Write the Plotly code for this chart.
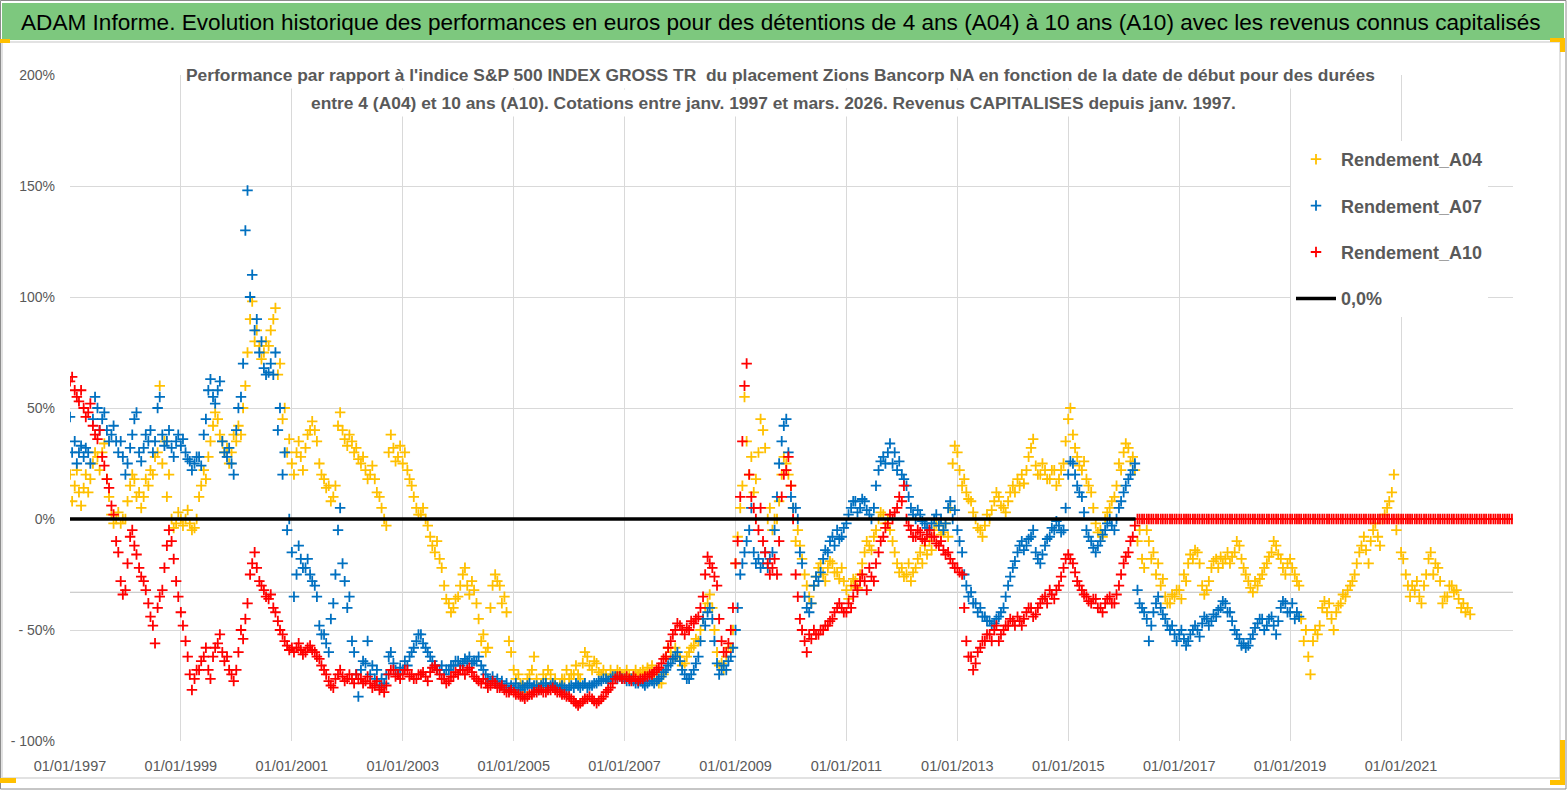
import pandas as pd
import plotly.graph_objects as go

# performance relative to the index, in %, two readings per month (1st and 15th)
# Rendement_A04 : Jan 1997 -> Apr 2022
a04 = [
    20, 8, 15, 22, 12, 6, 14, 20, 12, 18, 25, 30, 28, 22, 30, 34, 18, 10, 2, -2, 0, 3, -2, 0,              # 1997
    0, 8, 15, 20, 18, 10, 12, 5, 10, 18, 15, 22, 20, 28, 30, 60, 25, 35, 10, 20, 0, -4, -2, 3,             # 1998
    0, -3, 0, 4, -2, -5, -4, 0, 10, 15, 22, 18, 28, 35, 42, 48, 45, 38, 35, 30, 32, 25, 30, 38,            # 1999
    35, 42, 38, 50, 60, 75, 90, 98, 80, 85, 78, 72, 75, 80, 78, 85, 90, 95, 65, 70, 45, 50, 30, 36,        # 2000
    25, 20, 30, 35, 28, 22, 32, 38, 40, 44, 40, 35, 25, 20, 18, 14, 15, 8, 10, 15, 42, 48, 40, 36,         # 2001
    33, 38, 35, 30, 32, 27, 25, 28, 22, 18, 20, 24, 18, 12, 10, 5, 0, -3, 30, 38, 32, 26, 28, 33,          # 2002
    25, 30, 22, 18, 15, 10, 5, 2, 2, 5, 0, -3, -8, -12, -15, -10, -18, -22, -30, -36, -38, -42, -40, -36,  # 2003
    -35, -30, -25, -22, -30, -34, -28, -32, -38, -45, -55, -52, -60, -58, -40, -30, -25, -28, -30, -38, -35, -42, -55, -60,  # 2004
    -68, -72, -70, -74, -75, -78, -72, -70, -68, -62, -72, -76, -74, -70, -72, -68, -70, -74, -72, -76, -75, -72, -72, -68,  # 2005
    -72, -70, -70, -66, -70, -72, -65, -60, -62, -66, -68, -64, -65, -69, -70, -68, -70, -72, -68, -70, -70, -68, -69, -71,  # 2006
    -70, -68, -70, -72, -70, -68, -70, -69, -68, -70, -67, -69, -66, -70, -72, -74, -74, -70, -62, -58, -60, -63, -58, -62,  # 2007
    -62, -66, -65, -62, -60, -58, -57, -54, -55, -50, -45, -40, -38, -34, -40, -50, -60, -66, -65, -68, -62, -58, -58, -50,  # 2008
    -20, -8, 5, 15, 55, 35, 20, 28, 12, 18, 30, 45, 40, 32, 0, 5, -5, 0, 0, 8, 20, 28, 25, 20,             # 2009
    15, 5, -10, -5, -12, -18, -25, -30, -35, -38, -30, -26, -22, -20, -25, -28, -22, -19, -20, -24, -24, -27, -22, -28,  # 2010
    -32, -36, -30, -27, -28, -31, -25, -20, -15, -10, -12, -14, -8, -5, 0, 3, 2, -2, 0, -5, -10, -15, -20, -24,  # 2011
    -22, -26, -25, -20, -28, -24, -22, -18, -15, -20, -12, -16, -10, -14, -5, -2, -3, -7, -6, -2, -8, 5, 25, 33,  # 2012
    30, 22, 15, 18, 12, 9, 8, 3, 0, -4, -5, -8, -3, 2, 0, 4, 8, 12, 10, 6, 5, 3, 8, 12,                    # 2013
    15, 12, 18, 15, 20, 16, 22, 28, 32, 36, 24, 20, 20, 25, 22, 18, 18, 22, 22, 15, 18, 22, 25, 35,        # 2014
    45, 50, 38, 32, 28, 24, 22, 26, 18, 15, 12, 5, -2, -6, -5, -8, 0, 3, 5, 8, 10, 15, 25, 22,             # 2015
    30, 34, 32, 26, 28, 22, -10, -5, -18, -22, -5, -10, -18, -15, -25, -20, -30, -27, -35, -38, -38, -34, -35, -32,  # 2016
    -32, -36, -25, -28, -20, -16, -18, -14, -15, -20, -30, -34, -32, -28, -22, -19, -18, -22, -17, -20, -18, -15, -20, -17,  # 2017
    -15, -10, -12, -18, -22, -25, -28, -31, -33, -28, -30, -27, -25, -22, -20, -17, -15, -10, -12, -16, -18, -22, -25, -20,  # 2018
    -18, -22, -25, -28, -30, -45, -55, -50, -62, -70, -55, -50, -52, -48, -40, -37, -42, -38, -45, -50, -42, -39, -38, -34,  # 2019
    -35, -32, -30, -28, -25, -20, -15, -12, -8, -14, -20, -10, -5, -2, -8, -12, 0, 2, 5, 8, 12, 20, -5, 0,  # 2020
    -15, -18, -25, -30, -35, -30, -32, -28, -35, -38, -30, -25, -18, -15, -25, -20, -22, -28, -38, -35, -35, -30, -30, -33,  # 2021
    -32, -36, -40, -38, -42, -40, -43,                                                                      # 2022
]

# Rendement_A07 : Jan 1997 -> Mar 2019
a07 = [
    46, 30, 35, 25, 30, 33, 28, 32, 30, 25, 45, 55, 50, 40, 45, 48, 40, 35, 38, 42, 35, 30, 35, 28,        # 1997
    20, 25, 32, 38, 45, 48, 30, 26, 32, 38, 35, 40, 30, 35, 50, 55, 38, 33, 35, 40, 32, 28, 35, 38,        # 1998
    33, 36, 30, 27, 26, 22, 25, 28, 28, 24, 38, 45, 58, 63, 55, 52, 58, 62, 35, 30, 28, 32, 25, 20,        # 1999
    40, 50, 55, 70, 130, 148, 100, 110, 85, 90, 75, 80, 68, 65, 66, 70, 65, 75, 40, 50, 20, 30, -5, 0,     # 2000
    -15, -35, -25, -12, -18, -22, -22, -18, -25, -28, -30, -35, -48, -52, -52, -56, -60, -45, -38, -25, -5, 5, -20, -28,  # 2001
    -40, -35, -55, -60, -70, -80, -68, -64, -65, -55, -70, -66, -72, -68, -75, -72, -74, -70, -62, -60, -65, -68, -70, -67,  # 2002
    -68, -64, -66, -62, -60, -58, -55, -52, -52, -56, -58, -60, -62, -64, -66, -68, -68, -66, -70, -68, -68, -66, -66, -64,  # 2003
    -64, -66, -65, -63, -64, -62, -65, -64, -64, -62, -66, -68, -70, -72, -73, -71, -74, -72, -75, -73, -76, -74, -77, -75,  # 2004
    -76, -74, -76, -77, -75, -76, -75, -74, -76, -75, -75, -77, -75, -74, -74, -76, -75, -74, -75, -76, -76, -75, -76, -77,  # 2005
    -76, -75, -76, -74, -75, -76, -75, -74, -76, -75, -75, -74, -74, -73, -73, -72, -72, -73, -72, -71, -71, -72, -71, -72,  # 2006
    -72, -73, -73, -72, -73, -74, -74, -73, -74, -75, -74, -73, -73, -74, -73, -72, -71, -69, -68, -66, -65, -63, -62, -60,  # 2007
    -64, -68, -70, -72, -72, -70, -68, -65, -62, -55, -45, -48, -42, -40, -45, -55, -65, -70, -68, -66, -68, -64, -62, -58,  # 2008
    -50, -40, -25, -20, -15, -10, -5, 5, -15, -20, -18, -22, -20, -15, -22, -18, -15, -5, 10, 25, 35, 42, 45, 30,  # 2009
    10, 5, 5, 0, -15, -20, -35, -40, -42, -38, -30, -26, -28, -24, -18, -14, -15, -10, -8, -12, -5, -9, -8, -4,  # 2010
    -2, 2, 5, 8, 8, 3, 5, 9, 8, 4, 2, 0, 5, 15, 22, 26, 28, 25, 30, 34, 25, 30, 22, 26,                    # 2011
    20, 18, 15, 10, 5, 2, 0, 4, 2, -1, -2, -4, -5, -2, 0, 2, -3, 0, -5, -2, 5, 8, 0, 4,                    # 2012
    -5, -10, -15, -25, -30, -35, -33, -38, -38, -42, -40, -44, -44, -46, -46, -48, -47, -45, -44, -42, -40, -35, -30, -26,  # 2013
    -22, -19, -15, -12, -10, -14, -12, -9, -8, -5, -15, -18, -20, -16, -12, -9, -8, -4, -5, -1, -3, -6, -5, 5,  # 2014
    20, 26, 25, 20, 15, 12, 10, 3, -5, -8, -10, -13, -15, -12, -10, -7, -5, -2, 0, -3, -5, 0, 5, 8,        # 2015
    12, 15, 18, 20, 22, 25, -32, -38, -40, -42, -45, -55, -48, -42, -38, -35, -40, -43, -45, -48, -50, -48, -52, -55,  # 2016
    -52, -50, -54, -57, -55, -52, -50, -48, -50, -53, -47, -44, -45, -48, -46, -43, -44, -41, -40, -37, -38, -42, -42, -46,  # 2017
    -50, -52, -54, -57, -56, -58, -57, -54, -52, -49, -47, -45, -45, -50, -48, -45, -44, -48, -52, -46, -40, -37, -38, -42,  # 2018
    -42, -38, -45, -42, -44,                                                                                # 2019
]

# Rendement_A10 : Jan 1997 -> Mar 2016, then 0 from Apr 2016 -> Jan 2023
a10 = [
    62, 64, 58, 55, 53, 58, 50, 46, 48, 52, 42, 38, 36, 40, 28, 24, 18, 14, 6, 2, -10, -15, -28, -34,      # 1997
    -32, -20, -8, -5, -12, -16, -22, -26, -28, -32, -38, -44, -48, -56, -40, -35, -32, -22, -12, -5, -10, -18, -28, -35,  # 1998
    -42, -48, -55, -62, -70, -77, -72, -68, -68, -64, -62, -58, -68, -72, -62, -58, -56, -52, -60, -64, -62, -68, -70, -73,  # 1999
    -68, -60, -50, -54, -45, -38, -25, -20, -15, -22, -28, -30, -32, -35, -36, -34, -40, -42, -46, -50, -52, -55, -57, -59,  # 2000
    -58, -60, -58, -56, -59, -61, -60, -58, -57, -59, -60, -62, -63, -66, -68, -70, -73, -75, -76, -72, -70, -68, -71, -73,  # 2001
    -72, -70, -72, -74, -70, -72, -72, -74, -73, -71, -74, -76, -75, -73, -77, -76, -78, -75, -70, -68, -68, -71, -70, -72,  # 2002
    -70, -68, -68, -71, -70, -72, -72, -70, -70, -69, -71, -73, -69, -67, -66, -68, -70, -72, -72, -74, -73, -71, -71, -69,  # 2003
    -70, -68, -68, -70, -68, -67, -69, -71, -72, -73, -74, -72, -74, -76, -75, -73, -74, -76, -76, -75, -77, -78, -78, -77,  # 2004
    -78, -79, -79, -80, -80, -81, -80, -79, -79, -78, -78, -77, -77, -78, -78, -77, -77, -76, -77, -78, -78, -79, -79, -80,  # 2005
    -80, -81, -82, -83, -84, -83, -82, -81, -81, -80, -81, -82, -83, -82, -81, -80, -78, -77, -76, -74, -72, -71, -71, -72,  # 2006
    -72, -71, -72, -73, -71, -72, -73, -72, -72, -71, -71, -70, -70, -69, -68, -67, -65, -63, -62, -58, -55, -52, -50, -47,  # 2007
    -48, -50, -52, -49, -50, -46, -47, -45, -44, -40, -35, -25, -17, -20, -22, -26, -30, -45, -55, -60, -60, -56, -50, -40,  # 2008
    -20, -10, 10, 35, 60, 70, 20, 10, 5, 0, -5, 5, -10, -15, -20, -25, -22, -18, -25, -10, 10, 20, 22, 28,  # 2009
    15, 0, -25, -35, -45, -50, -55, -60, -52, -54, -50, -52, -52, -50, -50, -48, -48, -46, -45, -42, -40, -38, -40, -42,  # 2010
    -42, -38, -40, -35, -30, -32, -28, -25, -28, -32, -22, -26, -28, -20, -15, -10, -8, -4, -2, 2, 0, 3, 5, 10,  # 2011
    8, 15, 0, -3, -5, -8, -8, -5, -6, -9, -10, -7, -5, -8, -8, -11, -12, -10, -14, -16, -15, -18, -20, -22,  # 2012
    -22, -24, -25, -40, -55, -62, -62, -68, -65, -60, -58, -55, -55, -52, -52, -55, -50, -48, -55, -52, -50, -48, -48, -45,  # 2013
    -46, -48, -44, -46, -48, -45, -42, -40, -40, -44, -43, -40, -38, -36, -35, -38, -32, -34, -36, -32, -30, -26, -22, -18,  # 2014
    -16, -18, -20, -24, -28, -30, -32, -34, -35, -37, -38, -36, -36, -40, -40, -42, -38, -36, -35, -38, -38, -34, -30, -25,  # 2015
    -20, -17, -15, -10, -8, -3,                                                                             # 2016 (Jan-Mar)
    0, 0, 0, 0, 0, 0, 0, 0, 0, 0, 0, 0, 0, 0, 0, 0, 0, 0,                                                   # 2016 (Apr-Dec)
    0, 0, 0, 0, 0, 0, 0, 0, 0, 0, 0, 0, 0, 0, 0, 0, 0, 0, 0, 0, 0, 0, 0, 0,                                 # 2017
    0, 0, 0, 0, 0, 0, 0, 0, 0, 0, 0, 0, 0, 0, 0, 0, 0, 0, 0, 0, 0, 0, 0, 0,                                 # 2018
    0, 0, 0, 0, 0, 0, 0, 0, 0, 0, 0, 0, 0, 0, 0, 0, 0, 0, 0, 0, 0, 0, 0, 0,                                 # 2019
    0, 0, 0, 0, 0, 0, 0, 0, 0, 0, 0, 0, 0, 0, 0, 0, 0, 0, 0, 0, 0, 0, 0, 0,                                 # 2020
    0, 0, 0, 0, 0, 0, 0, 0, 0, 0, 0, 0, 0, 0, 0, 0, 0, 0, 0, 0, 0, 0, 0, 0,                                 # 2021
    0, 0, 0, 0, 0, 0, 0, 0, 0, 0, 0, 0, 0, 0, 0, 0, 0, 0, 0, 0, 0, 0, 0, 0,                                 # 2022
    0,                                                                                                      # 2023
]

zero_line_dates = ["1997-01-01", "2016-03-20"]
zero_line_vals = [0, 0]

tick_dates = ["1997-01-01", "1999-01-01", "2001-01-01", "2003-01-01", "2005-01-01",
              "2007-01-01", "2009-01-01", "2011-01-01", "2013-01-01", "2015-01-01",
              "2017-01-01", "2019-01-01", "2021-01-01"]
tick_labels = ["01/01/1997", "01/01/1999", "01/01/2001", "01/01/2003", "01/01/2005",
               "01/01/2007", "01/01/2009", "01/01/2011", "01/01/2013", "01/01/2015",
               "01/01/2017", "01/01/2019", "01/01/2021"]
y_ticks = [-100, -50, 0, 50, 100, 150, 200]
y_labels = ["- 100%", "- 50%", "0%", "50%", "100%", "150%", "200%"]

title_txt = ("ADAM Informe. Evolution historique des performances en euros pour des "
             "détentions de 4 ans (A04) à 10 ans (A10) avec les revenus connus capitalisés")
subtitle_l1 = ("Performance par rapport à l'indice S&P 500 INDEX GROSS TR  du placement "
               "Zions Bancorp NA en fonction de la date de début pour des durées")
subtitle_l2 = ("entre 4 (A04) et 10 ans (A10). Cotations entre janv. 1997 et mars. 2026. "
               "Revenus CAPITALISES depuis janv. 1997.")

W, H = 1567, 790
FONT = "Liberation Sans, Arial, sans-serif"
GREY_TXT = "#595959"


def px(x):
    return x / W


def py(y):
    return 1 - y / H


def half_months(n):
    # 1st and 15th of each month starting Jan 1997
    return pd.date_range("1997-01-01", periods=n, freq="SMS")


fig = go.Figure()

series = [
    ("Rendement_A04", a04, "#FFC000"),
    ("Rendement_A07", a07, "#0070C0"),
    ("Rendement_A10", a10, "#FF0000"),
]
for rank, (name, vals, col) in enumerate(series):
    fig.add_trace(go.Scatter(
        x=half_months(len(vals)), y=vals, name=name, mode="markers",
        marker=dict(symbol="cross-thin", size=7.5, color=col, line=dict(width=1.8, color=col)),
        legendgroup=name, legendrank=rank + 1,
    ))

fig.add_trace(go.Scatter(
    x=zero_line_dates, y=zero_line_vals, name="0,0%", mode="lines",
    line=dict(color="black", width=3.5), legendgroup="zero", legendrank=4,
))

shapes = [
    # outer border
    dict(type="rect", xref="paper", yref="paper", x0=px(0.5), x1=px(1566), y0=py(789), y1=py(0.5),
         line=dict(color="#8c8c8c", width=1), layer="below"),
    # chart area border
    dict(type="rect", xref="paper", yref="paper", x0=px(2), x1=px(1560), y0=py(778), y1=py(42),
         line=dict(color="#d9d9d9", width=1.5), layer="below"),
    # green title band
    dict(type="rect", xref="paper", yref="paper", x0=px(2), x1=px(1564), y0=py(40), y1=py(3),
         fillcolor="#7DC87E", line=dict(width=0), layer="below"),
    # grey reference line
    dict(type="line", xref="paper", yref="y", x0=px(70), x1=px(1513), y0=-33, y1=-33,
         line=dict(color="#bfbfbf", width=1), layer="below"),
    # yellow selection marks
    dict(type="rect", xref="paper", yref="paper", x0=0, x1=px(16), y0=py(783), y1=py(778),
         fillcolor="#FFC000", line=dict(width=0)),
    dict(type="rect", xref="paper", yref="paper", x0=0, x1=px(10), y0=py(43), y1=py(39),
         fillcolor="#FFC000", line=dict(width=0)),
    dict(type="rect", xref="paper", yref="paper", x0=px(1550), x1=px(1565), y0=py(42), y1=py(38),
         fillcolor="#FFC000", line=dict(width=0)),
    dict(type="rect", xref="paper", yref="paper", x0=px(1560), x1=px(1565), y0=py(52), y1=py(38),
         fillcolor="#FFC000", line=dict(width=0)),
    dict(type="rect", xref="paper", yref="paper", x0=px(1560), x1=px(1565), y0=py(785), y1=py(740),
         fillcolor="#FFC000", line=dict(width=0)),
    dict(type="rect", xref="paper", yref="paper", x0=px(1550), x1=px(1565), y0=py(785), y1=py(780),
         fillcolor="#FFC000", line=dict(width=0)),
]

annotations = [
    dict(text=title_txt, xref="paper", yref="paper", x=px(781), y=py(22), showarrow=False,
         xanchor="center", yanchor="middle", font=dict(family=FONT, size=22.6, color="black")),
    dict(text="<b>" + subtitle_l1 + "</b>", xref="paper", yref="paper",
         x=px(780), y=py(75), showarrow=False, xanchor="center", yanchor="middle",
         bgcolor="white", borderpad=3, font=dict(family=FONT, size=17.4, color=GREY_TXT)),
    dict(text="<b>" + subtitle_l2 + "</b>", xref="paper", yref="paper",
         x=px(773), y=py(103), showarrow=False, xanchor="center", yanchor="middle",
         bgcolor="white", borderpad=3, font=dict(family=FONT, size=17.4, color=GREY_TXT)),
]

fig.update_layout(
    width=W, height=H,
    margin=dict(l=0, r=0, t=0, b=0, autoexpand=False),
    paper_bgcolor="white", plot_bgcolor="white",
    font=dict(family=FONT, color=GREY_TXT),
    showlegend=True,
    legend=dict(x=px(1291), y=py(141), xanchor="left", yanchor="top", bgcolor="white",
                font=dict(family=FONT, size=18, color=GREY_TXT, weight="bold"),
                tracegroupgap=20, itemwidth=40),
    xaxis=dict(domain=[px(70), px(1513)], type="date", automargin=False,
               range=["1997-01-01", "2023-01-08"],
               tickvals=tick_dates, ticktext=tick_labels, tickangle=0,
               showgrid=True, gridcolor="#d9d9d9", gridwidth=1,
               zeroline=False, showline=False, ticks="", ticklabelstandoff=14,
               tickfont=dict(family=FONT, size=14.5, color=GREY_TXT)),
    yaxis=dict(domain=[py(741), py(75)], range=[-100, 200], automargin=False,
               tickvals=y_ticks, ticktext=y_labels,
               showgrid=True, gridcolor="#d9d9d9", gridwidth=1,
               zeroline=False, showline=False, ticks="", ticklabelstandoff=14,
               tickfont=dict(family=FONT, size=14, color=GREY_TXT)),
    shapes=shapes,
    annotations=annotations,
)

fig.write_html("out.html", config={"displayModeBar": False},
               post_script="document.body.style.margin='0';")
